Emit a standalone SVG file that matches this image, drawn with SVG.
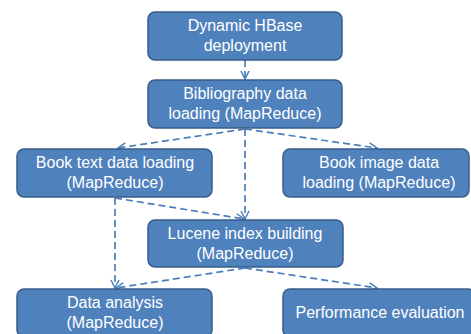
<svg xmlns="http://www.w3.org/2000/svg" width="471" height="334" viewBox="0 0 471 334">
<defs>
<style>
.box{fill:#4F81BD;stroke:#385D8A;stroke-width:1.5}
.t{fill:#fff;font-family:"Liberation Sans",Arial,sans-serif;font-size:16px;text-anchor:middle}
.c{fill:none;stroke:#4A7EBB;stroke-width:1.7;stroke-dasharray:7,4;marker-end:url(#ah)}
</style>
<marker id="ah" viewBox="0 0 10 10" refX="9" refY="5" markerWidth="10" markerHeight="10" markerUnits="userSpaceOnUse" orient="auto">
<path d="M1,1 L9,5 L1,9" fill="none" stroke="#4A7EBB" stroke-width="1.5"/>
</marker>
</defs>
<rect width="471" height="334" fill="#fff"/>
<g id="connectors">
<path class="c" d="M245,60 L245,79"/>
<path class="c" d="M245,129 L118,148"/>
<path class="c" d="M245,129 L377,148"/>
<path class="c" d="M245,129 L245,219"/>
<path class="c" d="M115,198 L244,219"/>
<path class="c" d="M115,198 L115,288"/>
<path class="c" d="M245,268 L116,288"/>
<path class="c" d="M245,268 L377,288"/>
</g>
<g id="n1"><rect class="box" x="148" y="12" width="194" height="48" rx="7"/><text class="t" x="245" y="31">Dynamic HBase</text><text class="t" x="245" y="51">deployment</text></g>
<g id="n2"><rect class="box" x="148" y="80" width="194" height="48" rx="7"/><text class="t" x="245" y="99">Bibliography data</text><text class="t" x="245" y="119">loading (MapReduce)</text></g>
<g id="n3"><rect class="box" x="17" y="149" width="195" height="48" rx="7"/><text class="t" x="115" y="168">Book text data loading</text><text class="t" x="115" y="188">(MapReduce)</text></g>
<g id="n4"><rect class="box" x="283" y="149" width="186" height="48" rx="7"/><text class="t" x="379" y="168">Book image data</text><text class="t" x="379" y="188">loading (MapReduce)</text></g>
<g id="n5"><rect class="box" x="148" y="220" width="195" height="47" rx="7"/><text class="t" x="245" y="239">Lucene index building</text><text class="t" x="245" y="259">(MapReduce)</text></g>
<g id="n6"><rect class="box" x="17" y="289" width="195" height="48" rx="7"/><text class="t" x="115" y="308">Data analysis</text><text class="t" x="115" y="328">(MapReduce)</text></g>
<g id="n7"><rect class="box" x="283" y="289" width="192" height="48" rx="7"/><text class="t" x="380" y="318">Performance evaluation</text></g>
</svg>
